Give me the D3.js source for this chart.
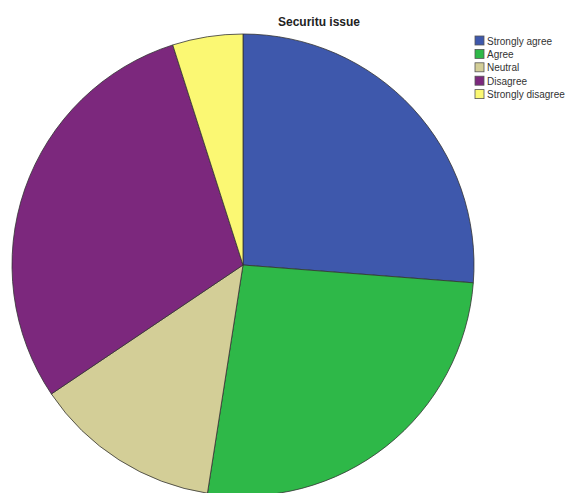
<!DOCTYPE html>
<html><head><meta charset="utf-8">
<script src="https://cdn.jsdelivr.net/npm/d3@7"></script>
<style>body{margin:0;background:#fff;overflow:hidden}svg{display:block}</style>
</head><body>
<script>
const categories = ["Strongly agree","Agree","Neutral","Disagree","Strongly disagree"];
const counts = [16,16,8,18,3];
const colors = ["#3E58AC","#2EB848","#D3CE97","#7C287D","#FBF873"];
const title = "Securitu issue";

const W=577,H=493;
const svg=d3.select("body").append("svg").attr("width",W).attr("height",H);
const data=categories.map((c,i)=>({cat:c,v:counts[i],col:colors[i]}));
const pie=d3.pie().value(d=>d.v).sort(null);
const arc=d3.arc().innerRadius(0).outerRadius(231);
const g=svg.append("g").attr("transform","translate(243,265)");
g.selectAll("path").data(pie(data)).join("path")
 .attr("d",arc).attr("fill",d=>d.data.col)
 .attr("stroke","#333").attr("stroke-width",0.8);

svg.append("text").attr("x",319).attr("y",26).attr("text-anchor","middle")
 .attr("font-family","Liberation Sans, Arial, sans-serif").attr("font-weight","bold")
 .attr("font-size",12).attr("fill","#222").text(title);

const lg=svg.append("g");
const row=lg.selectAll("g").data(data).join("g")
 .attr("transform",(d,i)=>`translate(475,${36+i*13.4})`);
row.append("rect").attr("width",9).attr("height",9).attr("fill",d=>d.col)
 .attr("stroke","#555").attr("stroke-width",0.8);
row.append("text").attr("x",12).attr("y",8.5)
 .attr("font-family","Liberation Sans, Arial, sans-serif").attr("font-size",10)
 .attr("fill","#333").text(d=>d.cat);
</script>
</body></html>
